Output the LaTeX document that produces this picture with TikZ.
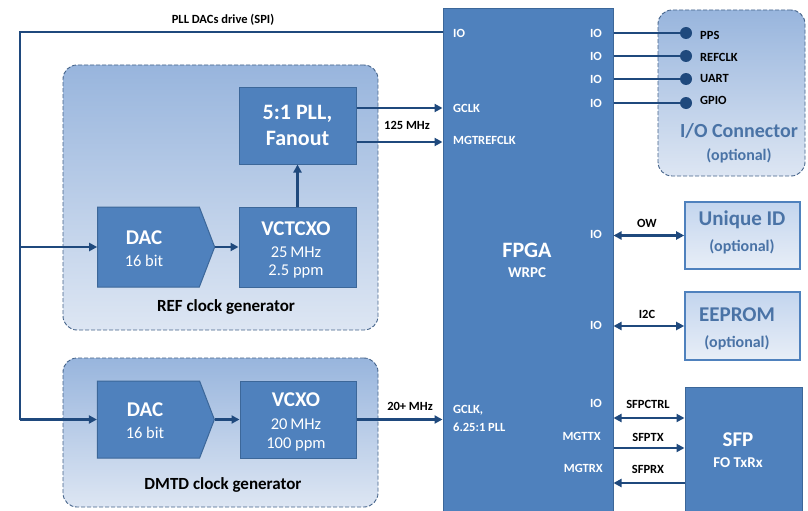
\documentclass[tikz,border=0pt]{standalone}
\usepackage{fontspec}
\setmainfont{Carlito}
\usetikzlibrary{arrows.meta,shapes.symbols}
\definecolor{blk}{HTML}{4F81BD}
\definecolor{blkedge}{HTML}{3C6799}
\definecolor{navy}{HTML}{1F497D}
\definecolor{grtop}{HTML}{98B5DD}
\definecolor{grbot}{HTML}{DDE6F3}
\definecolor{grpedge}{HTML}{44638A}
\definecolor{opttop}{HTML}{C3D5EE}
\definecolor{optbot}{HTML}{E8EEF7}
\definecolor{opttext}{HTML}{4A73A6}
\begin{document}
\begin{tikzpicture}[x=1pt,y=-1pt,
  blkbox/.style={draw=blkedge,line width=1pt,fill=blk,text=white,align=center,inner sep=0pt},
  dacbox/.style={blkbox,signal,signal to=east,signal pointer angle=138},
  grpbox/.style={draw=grpedge,dash pattern=on 4pt off 2pt,line width=0.9pt,rounded corners=14pt,top color=grtop,bottom color=grbot,inner sep=0pt},
  optbox/.style={draw=blk,line width=1.6pt,top color=opttop,bottom color=optbot,inner sep=0pt,align=center,text=opttext},
  conn/.style={draw=navy,line width=2.4pt,-{Triangle[length=8pt,width=8pt]}},
  bconn/.style={draw=navy,line width=2.4pt,{Triangle[length=8pt,width=8pt]}-{Triangle[length=8pt,width=8pt]}},
  line/.style={draw=navy,line width=2.4pt},
  lbl/.style={font=\bfseries\fontsize{12.5}{13}\selectfont,text=black,inner sep=0pt},
  plbl/.style={font=\bfseries\fontsize{12.5}{13}\selectfont,text=white,inner sep=0pt},
  pin/.style={circle,fill=navy,inner sep=0pt,minimum size=12pt},
  big/.style={font=\bfseries\fontsize{21}{22}\selectfont,text=white,inner sep=0pt},
  sub/.style={font=\fontsize{16.5}{18}\selectfont,text=white,inner sep=0pt},
  grplbl/.style={font=\bfseries\fontsize{17}{18}\selectfont,inner sep=0pt},
  opttitle/.style={font=\bfseries\fontsize{21}{22}\selectfont,text=opttext,inner sep=0pt},
  optsub/.style={font=\bfseries\fontsize{16}{17}\selectfont,text=opttext,inner sep=0pt}
]
\useasboundingbox (0,0) rectangle (808,511);
\clip (0,0) rectangle (808,511);
\fill[white] (0,0) rectangle (808,511);

% groups
\node[grpbox,minimum width=315pt,minimum height=265pt] (refgrp) at (220.5,197.5) {};
\node[grpbox,minimum width=315pt,minimum height=149pt] (dmtdgrp) at (220.5,432.5) {};
\node[grpbox,minimum width=147pt,minimum height=166pt] (iogrp) at (731.5,93) {};

% FPGA
\node[blkbox,minimum width=170pt,minimum height=507pt] (fpga) at (528,262.5) {};
\node[font=\bfseries\fontsize{22}{22}\selectfont,text=white,inner sep=0pt] (fpgat) at (527,250) {FPGA};
\node[font=\bfseries\fontsize{15}{15}\selectfont,text=white,inner sep=0pt] (wrpct) at (527,273) {WRPC};

% REF generator blocks
\node[blkbox,minimum width=117pt,minimum height=77pt,font=\bfseries\fontsize{22}{26}\selectfont] (pll) at (297.5,125.5) {5:1 PLL,\\Fanout};
\node[blkbox,minimum width=117pt,minimum height=80pt] (vctcxo) at (297.5,247) {};
\node[big] (vctcxot) at (296,228.5) {VCTCXO};
\node[sub] (vctcxos1) at (296,252) {25\,MHz};
\node[sub] (vctcxos2) at (296,271) {2.5 ppm};
\node[dacbox,minimum width=117pt,minimum height=80pt] (dac1) at (148.5,247) {};
\node[big] (dac1t) at (144,238) {DAC};
\node[sub] (dac1s) at (144,261) {16 bit};

% DMTD generator blocks
\node[blkbox,minimum width=116pt,minimum height=77pt] (vcxo) at (298,419.5) {};
\node[big] (vcxot) at (296,400) {VCXO};
\node[sub] (vcxos1) at (296,424) {20\,MHz};
\node[sub] (vcxos2) at (296,444) {100 ppm};
\node[dacbox,minimum width=117pt,minimum height=77pt] (dac2) at (148.5,419.5) {};
\node[big] (dac2t) at (145,410) {DAC};
\node[sub] (dac2s) at (145,433) {16 bit};

\node[grplbl] (refl) at (226,307) {REF clock generator};
\node[grplbl] (dmtdl) at (223,485) {DMTD clock generator};

% optional boxes
\node[optbox,minimum width=115pt,minimum height=67pt] (uid) at (742.5,235.5) {};
\node[opttitle] (uidt) at (742,220) {Unique ID};
\node[optsub] (uids) at (742,247) {(optional)};
\node[optbox,minimum width=115pt,minimum height=68pt] (eep) at (742.5,326) {};
\node[opttitle] (eept) at (737,315) {EEPROM};
\node[optsub] (eeps) at (737,343) {(optional)};
\node[blkbox,minimum width=117pt,minimum height=129pt] (sfp) at (743.5,451.5) {};
\node[font=\bfseries\fontsize{21}{22}\selectfont,text=white,inner sep=0pt] (sfpt) at (738,440) {SFP};
\node[font=\bfseries\fontsize{15}{16}\selectfont,text=white,inner sep=0pt] (sfps) at (738,463) {FO TxRx};

\node[font=\bfseries\fontsize{20}{22}\selectfont,text=opttext,inner sep=0pt] (iot) at (739,131) {I/O Connector};
\node[optsub] (ios) at (739,156) {(optional)};

% FPGA port labels
\node[plbl,anchor=west] (p1) at (453,33) {IO};
\node[plbl,anchor=west] (p2) at (453,108) {GCLK};
\node[plbl,anchor=west] (p3) at (453,140) {MGTREFCLK};
\node[plbl,anchor=west] (p4) at (453,410) {GCLK,};
\node[plbl,anchor=west] (p5) at (453,427) {6.25:1 PLL};
\node[plbl,anchor=east] (q1) at (602,33) {IO};
\node[plbl,anchor=east] (q2) at (602,56) {IO};
\node[plbl,anchor=east] (q3) at (602,79) {IO};
\node[plbl,anchor=east] (q4) at (602,103) {IO};
\node[plbl,anchor=east] (q5) at (602,234) {IO};
\node[plbl,anchor=east] (q6) at (602,325) {IO};
\node[plbl,anchor=east] (q7) at (602,403) {IO};
\node[plbl,anchor=east] (q8) at (601,436) {MGTTX};
\node[plbl,anchor=east] (q9) at (603,468) {MGTRX};

% pins
\node[pin] (pps) at (686,33) {};
\node[pin] (refclk) at (686,56) {};
\node[pin] (uart) at (686,79) {};
\node[pin] (gpio) at (686,103) {};
\node[lbl,anchor=west] (ppsl) at (700,35) {PPS};
\node[lbl,anchor=west] (refclkl) at (700,57) {REFCLK};
\node[lbl,anchor=west] (uartl) at (700,78) {UART};
\node[lbl,anchor=west] (gpiol) at (700,100) {GPIO};
\draw[line] (fpga.east |- pps) -- (pps);
\draw[line] (fpga.east |- refclk) -- (refclk);
\draw[line] (fpga.east |- uart) -- (uart);
\draw[line] (fpga.east |- gpio) -- (gpio);

% SPI bus
\coordinate (spiC) at (20,32);
\coordinate (spiD) at (20,419.5);
\coordinate (spiB) at (20,247);
\draw[line] (fpga.west |- spiC) -- (spiC) -- (spiD);
\draw[conn] (spiD) -- (dac2.west);
\draw[conn] (spiB) -- (dac1.west);
\node[lbl] (spil) at (223,20) {PLL DACs drive (SPI)};

% clock connectors
\draw[conn] (dac1.east) -- (vctcxo.west);
\draw[conn] (dac2.east) -- (vcxo.west);
\draw[conn] (vctcxo.north) -- (pll.south);
\draw[conn] (pll.east |- 0,108) -- (fpga.west |- 0,108);
\draw[conn] (pll.east |- 0,142) -- (fpga.west |- 0,142);
\node[lbl] (mhz125) at (407,125) {125 MHz};
\draw[conn] (vcxo.east) -- (fpga.west |- vcxo.east);
\node[lbl] (mhz20) at (410,406) {20+ MHz};

% peripherals
\draw[bconn] (fpga.east |- uid) -- (uid.west);
\node[lbl] (owl) at (647,223.5) {OW};
\draw[bconn] (fpga.east |- eep) -- (eep.west);
\node[lbl] (i2cl) at (647,314) {I2C};
\draw[bconn] (fpga.east |- 0,418) -- (sfp.west |- 0,418);
\node[lbl] (ctrll) at (648,404) {SFPCTRL};
\draw[conn] (fpga.east |- 0,448) -- (sfp.west |- 0,448);
\node[lbl] (txl) at (648,437) {SFPTX};
\draw[conn] (sfp.west |- 0,483) -- (fpga.east |- 0,483);
\node[lbl] (rxl) at (648,469) {SFPRX};
\end{tikzpicture}
\end{document}
